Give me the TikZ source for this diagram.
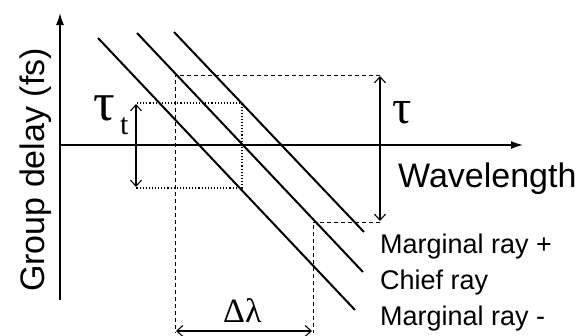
\documentclass[tikz,border=0pt]{standalone}
\usepackage{fontspec}
\setmainfont{Liberation Sans}
\newfontfamily\grk{Liberation Serif}
\usetikzlibrary{arrows.meta}
\begin{document}
\begin{tikzpicture}[x=1pt,y=-1pt,
  axis/.style={line width=1.5pt,-{Latex[length=12pt,width=8pt]}},
  ray/.style={line width=2pt},
  dashbox/.style={line width=1pt,dash pattern=on 4pt off 3pt},
  dotbox/.style={line width=1.1pt,dotted},
  measure/.style={line width=1.1pt,{Straight Barb[length=6pt,width=11pt]}-{Straight Barb[length=6pt,width=11pt]}},
  lbl/.style={inner sep=0pt,anchor=base west,font=\fontsize{27}{27}\selectfont},
  big/.style={inner sep=0pt,font=\fontsize{34}{34}\selectfont}]
\useasboundingbox (0,0) rectangle (584,335);
% axes
\coordinate (o) at (60,145);
\coordinate (ybot) at (60,300);
\coordinate (ytop) at (60,13);
\coordinate (xend) at (523,145);
\draw[line width=1.5pt] (ybot) -- (o);
\draw[axis] (o) -- (ytop);
\draw[axis] (o) -- (xend);
% rays
\coordinate (m1a) at (98,38);  \coordinate (m1b) at (355,310);
\coordinate (ca) at (137,33);  \coordinate (cb) at (363,272);
\coordinate (m2a) at (174,32); \coordinate (m2b) at (364,232);
\draw[ray] (m1a) -- (m1b);
\draw[ray] (ca) -- (cb);
\draw[ray] (m2a) -- (m2b);
% dashed construction
\coordinate (d1) at (175,75);
\coordinate (d2) at (380,75);
\coordinate (d3) at (313,222);
\coordinate (d4) at (380,222);
\coordinate (d1b) at (175,333);
\coordinate (d3b) at (313,333);
\draw[dashbox] (d2) -- (d1) -- (d1b);
\draw[dashbox] (d4) -- (d3) -- (d3b);
% dotted construction
\coordinate (p1) at (137,103);
\coordinate (p2) at (242,103);
\coordinate (p3) at (242,188);
\coordinate (p4) at (136,188);
\draw[dotbox] (p1) -- (p2) -- (p3) -- (p4);
% measures
\coordinate (tt1) at (136,104);
\coordinate (tt2) at (136,187);
\draw[measure] (tt1) -- (tt2);
\coordinate (t1) at (380,76);
\coordinate (t2) at (380,221);
\draw[measure] (t1) -- (t2);
\coordinate (l1) at (176,331);
\coordinate (l2) at (312,331);
\draw[measure] (l1) -- (l2);
% labels
\node[big,rotate=90,anchor=base] (gd) at (44,170) {Group delay (fs)};
\node[big,anchor=base west] (wl) at (398,187) {Wavelength};
\node[lbl] (mp) at (380,253) {Marginal ray +};
\node[lbl] (cr) at (380,289) {Chief ray};
\node[lbl] (mm) at (380,325) {Marginal ray -};
\node[inner sep=0pt,anchor=base west,font=\fontsize{48}{48}\selectfont\grk] (tau) at (392,123) {τ};
\node[inner sep=0pt,anchor=base west,font=\fontsize{54}{54}\selectfont\grk] (taut) at (93,120) {τ};
\node[inner sep=0pt,anchor=base west,font=\fontsize{30}{30}\selectfont\grk] (tsub) at (120,134) {t};
\node[inner sep=0pt,anchor=base west,font=\fontsize{34}{34}\selectfont\grk] (dl) at (223,322) {Δλ};
\end{tikzpicture}
\end{document}
